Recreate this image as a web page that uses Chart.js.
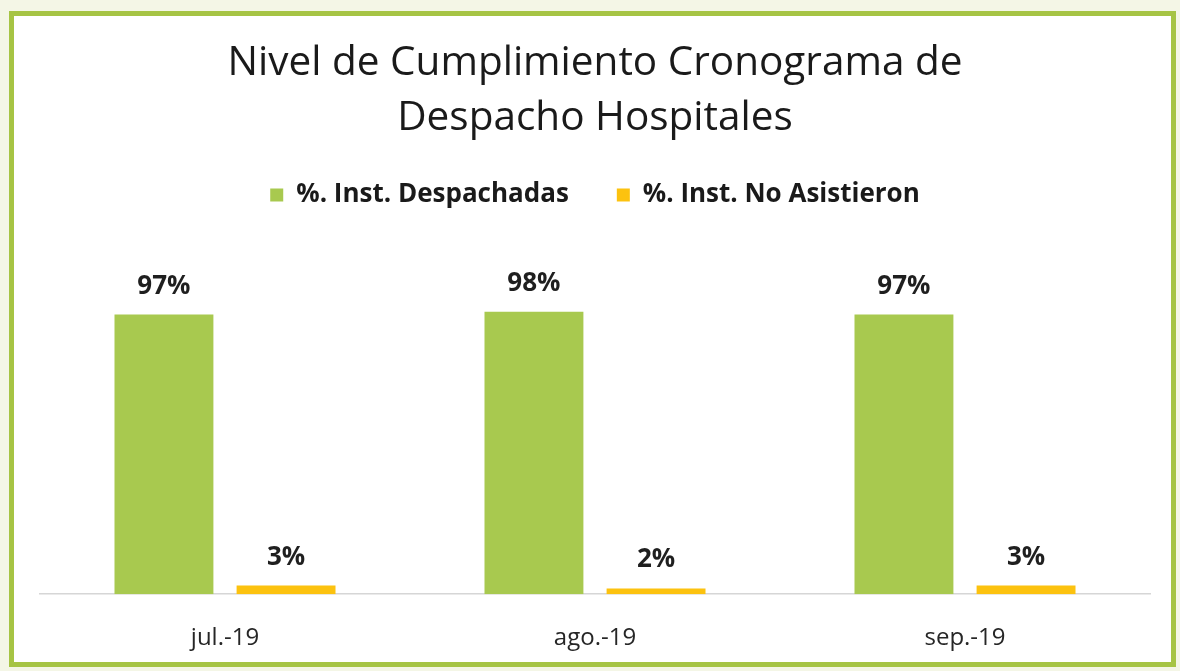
<!DOCTYPE html>
<html>
<head>
<meta charset="utf-8">
<script src="https://cdn.jsdelivr.net/npm/chart.js@4.4.1/dist/chart.umd.min.js"></script>
<style>
  html, body { margin: 0; padding: 0; background: #f4f6e6; overflow: hidden; }
  #frame { position: absolute; left: 9px; top: 11px; width: 1157px; height: 646px;
           border: 5px solid #a6c444; background: #ffffff; }
  #wrap { position: absolute; left: 0; top: 0; width: 1180px; height: 671px; }
</style>
</head>
<body>
<div id="frame"></div>
<div id="wrap"><canvas id="c" width="1180" height="671"></canvas></div>
<script>
const categories = ['jul.-19', 'ago.-19', 'sep.-19'];
const seriesNames = ['%. Inst. Despachadas', '%. Inst. No Asistieron'];
const despachadas = [97, 98, 97];
const noAsistieron = [3, 2, 3];
const titleLines = ['Nivel de Cumplimiento Cronograma de', 'Despacho Hospitales'];

const FONT = '"Open Sans", Lato, sans-serif';

const valueLabels = {
  id: 'valueLabels',
  afterDatasetsDraw(chart) {
    const ctx = chart.ctx;
    ctx.save();
    ctx.font = 'bold 26px ' + FONT;
    ctx.fillStyle = '#1f1f1f';
    ctx.textAlign = 'center';
    ctx.textBaseline = 'alphabetic';
    chart.data.datasets.forEach((ds, di) => {
      const meta = chart.getDatasetMeta(di);
      meta.data.forEach((el, i) => {
        ctx.fillText(Math.round(ds.data[i]) + '%', el.x, el.y - 21);
      });
    });
    ctx.restore();
  }
};

new Chart(document.getElementById('c'), {
  type: 'bar',
  data: {
    labels: categories,
    datasets: [
      { label: seriesNames[0], data: despachadas, backgroundColor: '#a8c94f' },
      { label: seriesNames[1], data: noAsistieron, backgroundColor: '#fcc20f' }
    ]
  },
  options: {
    responsive: false,
    animation: false,
    devicePixelRatio: 1,
    layout: { padding: { left: 40, right: 30, top: 0, bottom: -12 } },
    datasets: { bar: { categoryPercentage: 0.66, barPercentage: 0.81 } },
    plugins: {
      title: {
        display: true,
        text: titleLines,
        color: '#1a1a1a',
        font: { family: FONT, size: 40.5, weight: 'normal', lineHeight: 1.358 },
        padding: { top: 36, bottom: -12 }
      },
      legend: {
        display: true,
        position: 'top',
        labels: {
          color: '#1a1a1a',
          font: { family: FONT, size: 26, weight: 'bold' },
          boxWidth: 13, boxHeight: 13, padding: 48
        }
      },
      tooltip: { enabled: false }
    },
    scales: {
      x: {
        grid: { display: false, drawTicks: false },
        border: { display: true, color: '#d6d6d6', width: 1.5 },
        ticks: { color: '#262626', font: { family: FONT, size: 24 }, padding: 30 }
      },
      y: { display: false, min: 0, max: 130.5 }
    }
  },
  plugins: [valueLabels]
});
</script>
</body>
</html>
